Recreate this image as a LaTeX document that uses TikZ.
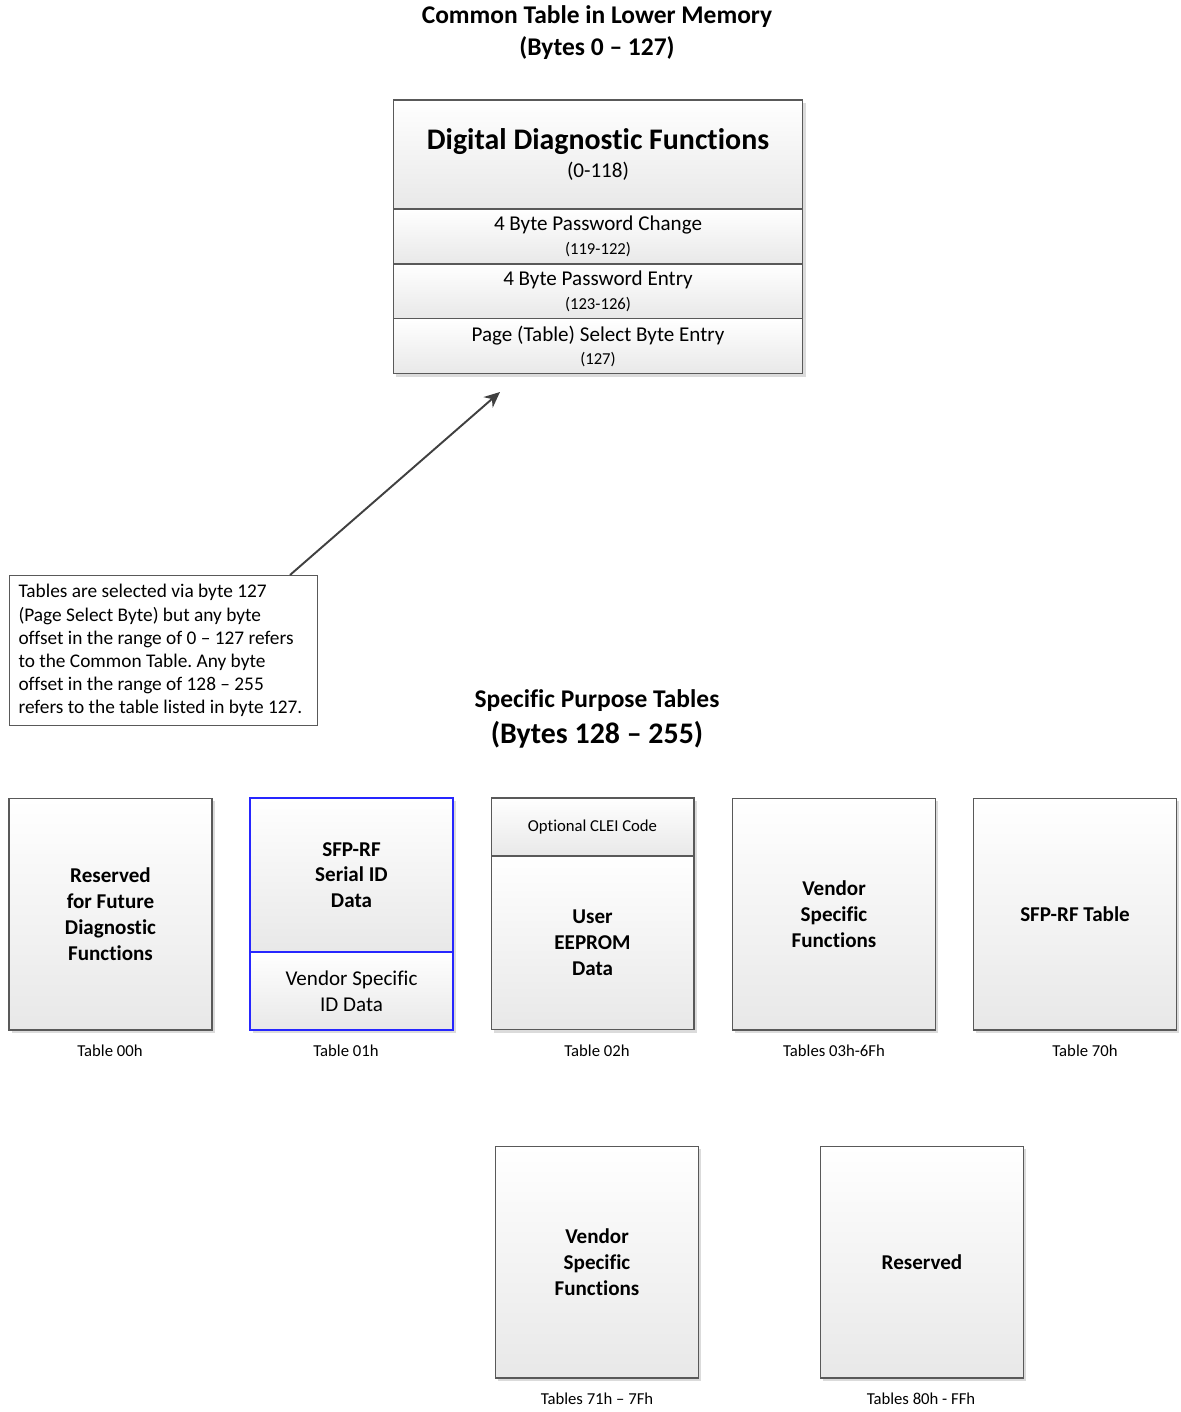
\documentclass[tikz,border=0pt]{standalone}
\usepackage{fontspec}
\setmainfont{Carlito}[Ligatures={TeX,CommonOff}]
\usetikzlibrary{arrows.meta, shadows}
\frenchspacing

\begin{document}
\begin{tikzpicture}[x=0.02cm, y=-0.02cm]
    \tikzstyle{part} = [rectangle, minimum width=8.2cm, inner sep=0pt, outer sep=0pt, text centered, align=center, draw=black!65, line width=0.6pt, top color=white, bottom color=black!9, drop shadow={shadow xshift=1.6pt, shadow yshift=-1.6pt, fill=black!14, opacity=1}]
    \tikzstyle{tbl} = [part, minimum width=4.06cm, minimum height=4.64cm, font=\fontsize{12}{14.7}\selectfont\bfseries]
    \tikzstyle{caption} = [font=\fontsize{9.5}{11}\selectfont]
    \tikzstyle{heading} = [align=center, font=\bfseries]
    \useasboundingbox (0,0) rectangle (1180,1412);

    % common table
    \node (common) [heading] at (597,32.5) {\fontsize{14.5}{17.6}\selectfont Common Table in Lower Memory\\[4.4pt] \fontsize{14.5}{17.6}\selectfont (Bytes 0 -- 127)};
    \node (ddf) [part, minimum height=2.18cm] at (598,154.5) {{\fontsize{17}{18}\selectfont\bfseries Digital Diagnostic Functions}\\[4pt] {\fontsize{12}{14}\selectfont (0-118)}};
    \node (pwchange) [part, minimum height=1.1cm, anchor=north] at (ddf.south) {{\fontsize{12}{13}\selectfont 4 Byte Password Change}\\[1.5pt] {\fontsize{9.5}{10}\selectfont (119-122)}};
    \node (pwentry) [part, minimum height=1.1cm, anchor=north] at (pwchange.south) {{\fontsize{12}{13}\selectfont 4 Byte Password Entry}\\[1.5pt] {\fontsize{9.5}{10}\selectfont (123-126)}};
    \node (pageselect) [part, minimum height=1.1cm, anchor=north] at (pwentry.south) {{\fontsize{12}{13}\selectfont Page (Table) Select Byte Entry}\\[1.5pt] {\fontsize{9.5}{10}\selectfont (127)}};

    % note and pointer
    \node (note) [rectangle, draw=black!65, line width=0.6pt, fill=white, align=flush left, anchor=north west, text width=5.8cm, minimum height=3cm, inner xsep=0.18cm, font=\fontsize{11}{13.15}\selectfont] at (9,575) {Tables are selected via byte 127\\(Page Select Byte) but any byte\\offset in the range of 0 -- 127 refers\\to the Common Table. Any byte\\offset in the range of 128 -- 255\\refers to the table listed in byte 127.};
    \coordinate (tip) at (500,392);
    \draw[-{Stealth[length=9pt, width=8pt]}, line width=1.1pt, draw=black!75, fill=black!75] ([xshift=-0.56cm]note.north east) -- (tip);

    % specific purpose tables
    \node (specific) [heading] at (597,719) {\fontsize{14.5}{17.6}\selectfont Specific Purpose Tables\\[5pt] \fontsize{17}{18}\selectfont (Bytes 128 -- 255)};

    \node (t00) [tbl] at (110.5,914) {Reserved\\for Future\\Diagnostic\\Functions};
    \node (t01top) [tbl, minimum height=3.08cm, draw=blue!85!white] at (351.5,875) {SFP-RF\\Serial ID\\Data};
    \node (t01bot) [tbl, minimum height=1.56cm, draw=blue!85!white, anchor=north, font=\fontsize{12}{14.7}\selectfont] at (t01top.south) {Vendor Specific\\ID Data};
    \node (t02top) [tbl, minimum height=1.16cm, font=\fontsize{9.5}{11}\selectfont] at (592.5,827) {Optional CLEI Code};
    \node (t02bot) [tbl, minimum height=3.48cm, anchor=north] at (t02top.south) {User\\EEPROM\\Data};
    \node (t03) [tbl] at (834,914) {Vendor\\Specific\\Functions};
    \node (t70) [tbl] at (1075,914) {SFP-RF Table};

    \node (t71) [tbl] at (597,1262) {Vendor\\Specific\\Functions};
    \node (t80) [tbl] at (922,1262) {Reserved};

    % captions
    \node[caption] at (110,1051) {Table 00h};
    \node[caption] at (346,1051) {Table 01h};
    \node[caption] at (597,1051) {Table 02h};
    \node[caption] at (834,1051) {Tables 03h-6Fh};
    \node[caption] at (1085,1051) {Table 70h};
    \node[caption] at (597,1399) {Tables 71h -- 7Fh};
    \node[caption] at (921,1399) {Tables 80h - FFh};
\end{tikzpicture}
\end{document}
